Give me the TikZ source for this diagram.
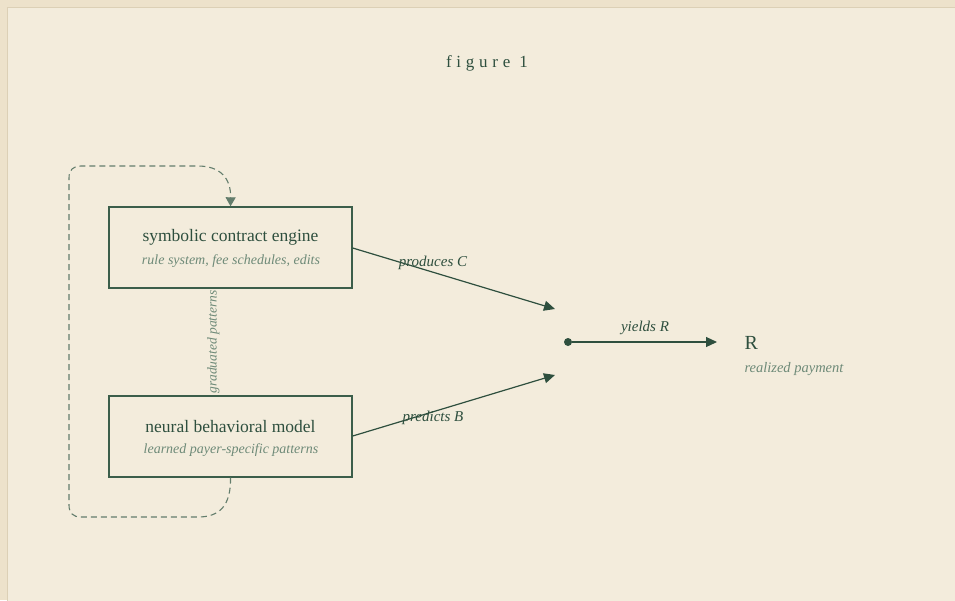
\documentclass[tikz,border=0pt]{standalone}
\usepackage{fontspec}
\setmainfont{Liberation Serif}
\usetikzlibrary{arrows.meta}
\definecolor{paper}{HTML}{F3ECDC}
\definecolor{outerpaper}{HTML}{EDE2CB}
\definecolor{rim}{HTML}{DCD0B6}
\definecolor{ink}{HTML}{2E4F3E}
\definecolor{boxink}{HTML}{3B5E4A}
\definecolor{softink}{HTML}{6E8A78}
\definecolor{loopink}{HTML}{637D6C}
\tikzset{
  engine/.style={draw=boxink, line width=1.4pt, minimum width=243pt, minimum height=81pt, inner sep=0pt},
  maintext/.style={text=ink, font=\fontsize{17.5}{20}\selectfont},
  subtext/.style={text=softink, font=\itshape\fontsize{14}{16}\selectfont},
  flow/.style={draw=ink, line width=1.2pt, -{Triangle[length=11pt,width=10pt]}},
  edgelabel/.style={text=ink, font=\itshape\fontsize{15}{17}\selectfont},
  feedback/.style={draw=loopink, line width=1.1pt, dash pattern=on 6pt off 4pt},
}
\begin{document}
\begin{tikzpicture}[x=1pt,y=-1pt]
  \useasboundingbox (0,0) rectangle (955,600);
  \clip (0,0) rectangle (955,600);
  % page and panel
  \fill[outerpaper] (0,0) rectangle (955,600);
  \fill[paper, draw=rim, line width=1pt] (7.5,7.5) rectangle (965,610);

  % title
  \node[text=ink, font=\fontsize{17}{20}\selectfont\addfontfeature{LetterSpace=28}] (title) at (487,63) {figure 1};

  % the two engines
  \node[engine] (sym) at (230.5,247.5) {};
  \node[maintext] (symname) at (230.5,237.5) {symbolic contract engine};
  \node[subtext] (symsub) at (231,261) {rule system, fee schedules, edits};

  \node[engine] (neu) at (230.5,436.5) {};
  \node[maintext] (neuname) at (230.5,426.5) {neural behavioral model};
  \node[subtext] (neusub) at (231,450) {learned payer-specific patterns};

  % join point and result
  \coordinate (cin) at (555,309);
  \coordinate (bin) at (555,375);
  \node[circle, fill=ink, inner sep=0pt, minimum size=8pt] (dot) at (568,342) {};
  \coordinate (rin) at (717,342);
  \node[text=ink, font=\fontsize{20}{22}\selectfont, anchor=west] (res) at (741,343) {R};
  \node[subtext, font=\itshape\fontsize{14.5}{16}\selectfont, anchor=west] (ressub) at (741,369) {realized payment};

  % flows
  \draw[flow] (sym.east |- 0,248) -- (cin);
  \draw[flow] (neu.east |- 0,436) -- (bin);
  \draw[flow] (dot) -- (rin);
  \node[edgelabel] (lc) at (433,263) {produces C};
  \node[edgelabel] (lb) at (433,418) {predicts B};
  \node[edgelabel] (lr) at (645,328) {yields R};

  % graduated patterns between the engines
  \node[text=softink, font=\itshape\fontsize{13.5}{15}\selectfont, rotate=90] (grad) at (213.5,342) {graduated patterns};

  % feedback loop
  \draw[feedback, -{Triangle[length=9pt,width=10pt]}]
    (neu.south) .. controls (231,505) and (220,517) .. (198,517)
    -- (81,517) .. controls (73,517) and (69,513) .. (69,505)
    -- (69,178) .. controls (69,170) and (73,166) .. (81,166)
    -- (198,166) .. controls (220,166) and (231,178) .. (sym.north);
\end{tikzpicture}
\end{document}
